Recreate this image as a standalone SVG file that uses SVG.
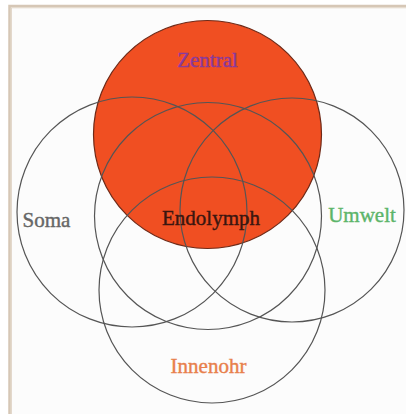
<svg xmlns="http://www.w3.org/2000/svg" width="406" height="414" viewBox="0 0 406 414">
  <style>
    .ring { fill: none; stroke: #555555; stroke-width: 1.2; }
    .core { fill: #f04f22; stroke: #6e2a18; stroke-width: 1.2; }
    .label { font-family: "Liberation Serif", "Times New Roman", serif; font-size: 21px; text-anchor: middle; stroke-width: 0.4; }
  </style>
  <rect x="0" y="0" width="406" height="414" fill="#ffffff"/>
  <!-- frame along top and left -->
  <path d="M10 414 V6.5 H406" fill="none" stroke="#d6c7b6" stroke-width="3.5"/>
  <path d="M11 414 V7.5 H406" fill="none" stroke="#e6dccf" stroke-width="1"/>
  <rect x="12" y="9" width="394" height="405" fill="#fcfcfc"/>

  <g id="zentral">
    <circle class="core" cx="207.5" cy="134.5" r="114"/>
    <text class="label" x="207.5" y="67" fill="#8a3a9c" stroke="#8a3a9c">Zentral</text>
  </g>
  <!-- unlabelled central set -->
  <g id="set-center">
    <circle class="ring" cx="208" cy="216" r="113.5"/>
  </g>
  <g id="soma">
    <circle class="ring" cx="132" cy="212" r="115"/>
    <text class="label" x="46.5" y="227" fill="#666666" stroke="#666666">Soma</text>
  </g>
  <g id="umwelt">
    <circle class="ring" cx="292" cy="210" r="112"/>
    <text class="label" x="362" y="222" fill="#5cb56a" stroke="#5cb56a">Umwelt</text>
  </g>
  <g id="innenohr">
    <circle class="ring" cx="212" cy="290" r="113"/>
    <text class="label" x="208.5" y="373" fill="#e8804c" stroke="#e8804c">Innenohr</text>
  </g>
  <g id="endolymph">
    <text class="label" x="211" y="225" fill="#3a1610" stroke="#3a1610">Endolymph</text>
  </g>
</svg>
